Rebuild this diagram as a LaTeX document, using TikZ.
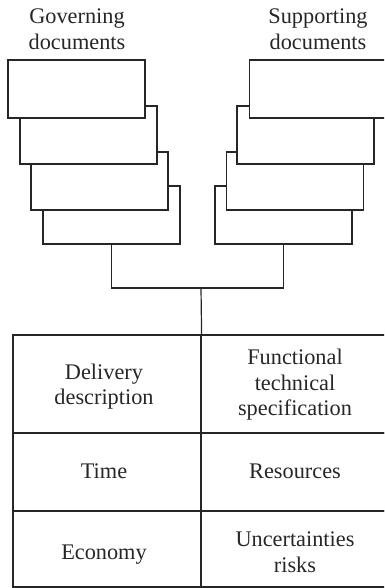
\documentclass[tikz,border=0pt]{standalone}
\usepackage{fontspec}
\setmainfont{Liberation Serif}
\begin{document}
\begin{tikzpicture}[x=1pt,y=-1pt,
  ln/.style={draw=black!85,line width=1.2pt},
  doc/.style={ln,fill=white,rectangle,minimum width=137pt,minimum height=58pt,inner sep=0pt},
  cell/.style={ln,rectangle,inner sep=0pt},
  lbl/.style={align=center,inner sep=0pt,text=black!85,font=\fontsize{22.3pt}{25.5pt}\selectfont}]
\useasboundingbox (0,0) rectangle (384,588);
\clip (0,0) rectangle (384,588);
% headers
\node[lbl] (gh) at (77,29) {Governing\\documents};
\node[lbl] (sh) at (318,29) {Supporting\\documents};
% left stack (back to front)
\node[doc] (g4) at (111.5,215) {};
\node[doc] (g3) at (99.5,181) {};
\node[doc] (g2) at (88.5,135) {};
\node[doc] (g1) at (76.5,89) {};
% right stack
\node[doc] (s4) at (283.5,215) {};
\node[doc] (s3) at (295,181) {};
\node[doc] (s2) at (305.5,135) {};
\node[doc] (s1) at (318.2,89) {};
% connectors
\coordinate (j) at (201,288);
\draw[ln] (g4.south) |- (j) -| (s4.south);
% table cells
\node[cell,minimum width=188pt,minimum height=98pt] (c11) at (107,384) {};
\node[cell,minimum width=188pt,minimum height=78pt] (c21) at (107,472) {};
\node[cell,minimum width=188pt,minimum height=76pt] (c31) at (107,549) {};
\node[cell,minimum width=188pt,minimum height=98pt] (c12) at (295,384) {};
\node[cell,minimum width=188pt,minimum height=78pt] (c22) at (295,472) {};
\node[cell,minimum width=188pt,minimum height=76pt] (c32) at (295,549) {};
\draw[ln] (j) -- (c11.north east);
% texts
\node[lbl] (t11) at (104,386.5) {Delivery\\description};
\node[lbl] (t12) at (295,385) {Functional\\technical\\specification};
\node[lbl] (t21) at (104,471) {Time};
\node[lbl] (t22) at (295,471) {Resources};
\node[lbl] (t31) at (104,554.5) {Economy};
\node[lbl] (t32) at (295,552) {Uncertainties\\risks};
\end{tikzpicture}
\end{document}
